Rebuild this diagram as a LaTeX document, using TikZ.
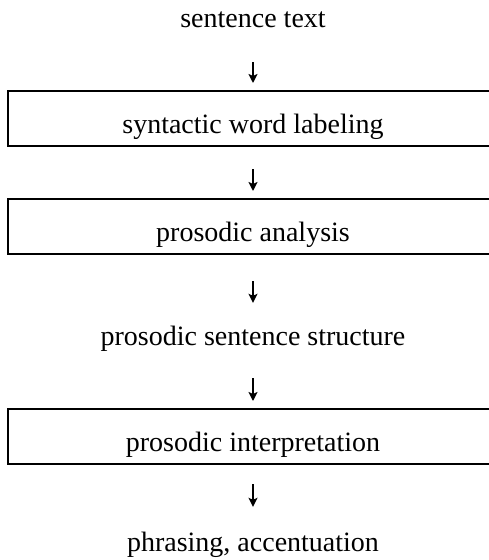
\documentclass[tikz,border=0pt]{standalone}
\usepackage{fontspec}
\setmainfont{Liberation Serif}
\usetikzlibrary{arrows.meta}

\tikzset{
  plain/.style={inner sep=0pt, text height=20pt, text depth=7pt, anchor=base},
  stage/.style={draw, line width=2pt, inner sep=0pt, minimum width=490pt,
                text height=42pt, text depth=13pt, anchor=base},
  flow/.style={line width=1.7pt, -{Stealth[length=9pt,width=9pt,inset=2pt]}}
}

\begin{document}
\begin{tikzpicture}[x=1pt,y=-1pt,font=\fontsize{28}{34}\selectfont]
\useasboundingbox (0,0) rectangle (489,560);

\node[plain] (text) at (253,27) {sentence text};
\node[stage] (labeling) at (253,133) {syntactic word labeling};
\node[stage] (analysis) at (253,241) {prosodic analysis};
\node[plain] (structure) at (253,345) {prosodic sentence structure};
\node[stage] (interp) at (253,451) {prosodic interpretation};
\node[plain] (phrasing) at (253,551) {phrasing, accentuation};

\draw[flow, shorten <=28pt, shorten >=7pt] (text) -- (labeling);
\draw[flow, shorten <=22pt, shorten >=7pt] (labeling) -- (analysis);
\draw[flow, shorten <=26pt, shorten >=22pt] (analysis) -- (structure);
\draw[flow, shorten <=26pt, shorten >=7pt] (structure) -- (interp);
\draw[flow, shorten <=19pt, shorten >=24pt] (interp) -- (phrasing);

\end{tikzpicture}
\end{document}
